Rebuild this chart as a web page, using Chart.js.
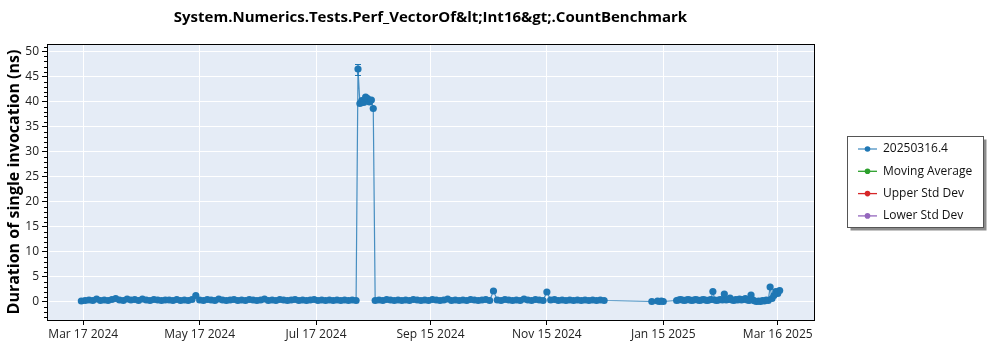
<!DOCTYPE html>
<html>
<head>
<meta charset="utf-8">
<script src="https://cdn.jsdelivr.net/npm/chart.js@4.4.1/dist/chart.umd.min.js"></script>
<style>
  html, body { margin: 0; padding: 0; background: #fff; }
</style>
</head>
<body>
<canvas id="perfChart" width="1000" height="350"></canvas>
<script>
// Benchmark results (one point per run)
const runDates = [
  '2024-03-16','2024-03-18','2024-03-20','2024-03-22','2024-03-24','2024-03-26','2024-03-28','2024-03-30',
  '2024-04-01','2024-04-03','2024-04-05','2024-04-07','2024-04-09','2024-04-11','2024-04-13','2024-04-15',
  '2024-04-17','2024-04-19','2024-04-21','2024-04-23','2024-04-25','2024-04-27','2024-04-29',
  '2024-05-01','2024-05-03','2024-05-05','2024-05-07','2024-05-09','2024-05-11','2024-05-13','2024-05-15',
  '2024-05-17','2024-05-19','2024-05-21','2024-05-23','2024-05-25','2024-05-27','2024-05-29','2024-05-31',
  '2024-06-02','2024-06-04','2024-06-06','2024-06-08','2024-06-10','2024-06-12','2024-06-14','2024-06-16',
  '2024-06-18','2024-06-20','2024-06-22','2024-06-24','2024-06-26','2024-06-28','2024-06-30',
  '2024-07-02','2024-07-04','2024-07-06','2024-07-08','2024-07-10','2024-07-12','2024-07-14','2024-07-16',
  '2024-07-18','2024-07-20','2024-07-22','2024-07-24','2024-07-26','2024-07-28','2024-07-30',
  '2024-08-01','2024-08-03','2024-08-05','2024-08-07',
  '2024-08-08','2024-08-09','2024-08-10','2024-08-11','2024-08-12','2024-08-13','2024-08-14','2024-08-15','2024-08-16',
  '2024-08-17','2024-08-19','2024-08-21','2024-08-23','2024-08-25','2024-08-27','2024-08-29','2024-08-31',
  '2024-09-02','2024-09-04','2024-09-06','2024-09-08','2024-09-10','2024-09-12','2024-09-14','2024-09-16',
  '2024-09-18','2024-09-20','2024-09-22','2024-09-24','2024-09-26','2024-09-28','2024-09-30',
  '2024-10-02','2024-10-04','2024-10-06','2024-10-08','2024-10-10','2024-10-12','2024-10-14','2024-10-16',
  '2024-10-18','2024-10-20','2024-10-22','2024-10-24','2024-10-26','2024-10-28','2024-10-30',
  '2024-11-01','2024-11-03','2024-11-05','2024-11-07','2024-11-09','2024-11-11','2024-11-13','2024-11-15',
  '2024-11-17','2024-11-19','2024-11-21','2024-11-23','2024-11-25','2024-11-27','2024-11-29',
  '2024-12-01','2024-12-03','2024-12-05','2024-12-07','2024-12-09','2024-12-11','2024-12-13','2024-12-15',
  '2025-01-09','2025-01-12','2025-01-13','2025-01-14','2025-01-15',
  '2025-01-22','2025-01-23','2025-01-24','2025-01-25','2025-01-26','2025-01-27','2025-01-28','2025-01-29',
  '2025-01-30','2025-01-31',
  '2025-02-01','2025-02-02','2025-02-03','2025-02-04','2025-02-05','2025-02-06','2025-02-07','2025-02-08',
  '2025-02-09','2025-02-10','2025-02-11','2025-02-12','2025-02-13','2025-02-14','2025-02-15','2025-02-16',
  '2025-02-17','2025-02-18','2025-02-19','2025-02-20','2025-02-21','2025-02-22','2025-02-23','2025-02-24',
  '2025-02-25','2025-02-26','2025-02-27','2025-02-28',
  '2025-03-01','2025-03-02','2025-03-03','2025-03-04','2025-03-05','2025-03-06','2025-03-07','2025-03-08',
  '2025-03-09','2025-03-10','2025-03-11','2025-03-12','2025-03-13','2025-03-14','2025-03-15','2025-03-16',
  '2025-03-17'
];
const runValues = [
  0.1, 0.2, 0.3, 0.2, 0.5, 0.2, 0.3, 0.2,
  0.4, 0.6, 0.3, 0.2, 0.5, 0.3, 0.4, 0.2,
  0.5, 0.3, 0.2, 0.4, 0.3, 0.2, 0.3,
  0.3, 0.2, 0.4, 0.2, 0.3, 0.2, 0.4, 1.2,
  0.3, 0.2, 0.4, 0.3, 0.2, 0.5, 0.3, 0.2,
  0.3, 0.4, 0.2, 0.3, 0.2, 0.4, 0.3, 0.2,
  0.3, 0.5, 0.2, 0.3, 0.2, 0.4, 0.3,
  0.2, 0.3, 0.4, 0.2, 0.3, 0.2, 0.3, 0.4,
  0.2, 0.3, 0.2, 0.3, 0.2, 0.3, 0.2,
  0.3, 0.2, 0.3, 0.2,
  46.5, 39.6, 40.2, 39.8, 40.9, 40.6, 39.9, 40.3, 38.6,
  0.2, 0.3, 0.2, 0.4, 0.3, 0.2, 0.3, 0.2,
  0.3, 0.2, 0.4, 0.3, 0.2, 0.3, 0.2, 0.4,
  0.3, 0.2, 0.3, 0.5, 0.2, 0.3, 0.2,
  0.3, 0.2, 0.4, 0.3, 0.2, 0.3, 0.4, 0.2,
  2.1, 0.3, 0.2, 0.4, 0.3, 0.2, 0.3,
  0.2, 0.5, 0.3, 0.2, 0.4, 0.3, 0.2, 1.9,
  0.3, 0.4, 0.2, 0.3, 0.2, 0.3, 0.2,
  0.3, 0.2, 0.3, 0.2, 0.3, 0.2, 0.3, 0.2,
  0.0, 0.1, 0.0, 0.1, 0.0,
  0.2, 0.3, 0.4, 0.3, 0.2, 0.3, 0.4, 0.3,
  0.2, 0.3,
  0.4, 0.3, 0.2, 0.3, 0.4, 0.3, 0.2, 0.3,
  0.4, 2.0, 0.3, 0.2, 0.3, 0.4, 0.3, 1.5,
  0.3, 0.4, 0.7, 0.3, 0.2, 0.4, 0.3, 0.5,
  0.3, 0.4, 0.6, 0.3,
  0.2, 1.3, 0.3, 0.1, 0.0, 0.1, 0.0, 0.2,
  0.1, 0.3, 0.2, 2.9, 0.6, 1.2, 2.0, 1.6,
  2.2
];

// error bars that are large enough to see
const errDates = ['2024-08-08'];
const errLow = [45.2];
const errHigh = [47.4];

const xTickDates = ['2024-03-17', '2024-05-17', '2024-07-17', '2024-09-15', '2024-11-15', '2025-01-15', '2025-03-16'];
const xTickLabels = ['Mar 17 2024', 'May 17 2024', 'Jul 17 2024', 'Sep 15 2024', 'Nov 15 2024', 'Jan 15 2025', 'Mar 16 2025'];
const yTicks = [0, 5, 10, 15, 20, 25, 30, 35, 40, 45, 50];

const seriesNames = ['20250316.4', 'Moving Average', 'Upper Std Dev', 'Lower Std Dev'];
const seriesColors = ['#1f77b4', '#2ca02c', '#d62728', '#9467bd'];

const FONT = "'Open Sans', 'Noto Sans', sans-serif";
const toMs = d => Date.parse(d);

// plot background + frame + minor ticks + error bars
const plotDecor = {
    id: 'plotDecor',
    beforeDraw(chart) {
        const { ctx, chartArea: a } = chart;
        ctx.save();
        ctx.fillStyle = '#e5ecf6';
        ctx.fillRect(a.left, a.top, a.right - a.left, a.bottom - a.top);
        ctx.restore();
    },
    afterDatasetsDraw(chart) {
        const { ctx, scales } = chart;
        ctx.save();
        ctx.strokeStyle = seriesColors[0];
        ctx.lineWidth = 1.2;
        errDates.forEach((d, i) => {
            const x = scales.x.getPixelForValue(toMs(d));
            const y1 = scales.y.getPixelForValue(errLow[i]);
            const y2 = scales.y.getPixelForValue(errHigh[i]);
            ctx.beginPath();
            ctx.moveTo(x, y1); ctx.lineTo(x, y2);
            ctx.moveTo(x - 3, y1); ctx.lineTo(x + 3, y1);
            ctx.moveTo(x - 3, y2); ctx.lineTo(x + 3, y2);
            ctx.stroke();
        });
        ctx.restore();
    },
    afterDraw(chart) {
        const { ctx, chartArea: a, scales } = chart;
        ctx.save();
        ctx.strokeStyle = '#000';
        ctx.lineWidth = 1;
        ctx.strokeRect(Math.round(a.left) + 0.5, Math.round(a.top) + 0.5,
            Math.round(a.right - a.left), Math.round(a.bottom - a.top));
        // minor ticks on y axis
        ctx.beginPath();
        for (let v = -3; v <= 51; v++) {
            if (v % 5 === 0) continue;
            const y = Math.round(scales.y.getPixelForValue(v)) + 0.5;
            ctx.moveTo(a.left - 3, y); ctx.lineTo(a.left, y);
        }
        ctx.stroke();
        ctx.restore();
    }
};

// boxed legend on the right
const boxLegend = {
    id: 'boxLegend',
    afterDraw(chart) {
        const ctx = chart.ctx;
        const bx = 847.5, by = 136.5, bw = 136, bh = 91;
        ctx.save();
        ctx.fillStyle = 'rgba(0,0,0,0.45)';
        ctx.fillRect(bx + 3, by + 3, bw, bh);
        ctx.fillStyle = '#fff';
        ctx.fillRect(bx, by, bw, bh);
        ctx.strokeStyle = '#555';
        ctx.lineWidth = 1;
        ctx.strokeRect(bx, by, bw, bh);
        ctx.font = '12px ' + FONT;
        ctx.textBaseline = 'middle';
        chart.data.datasets.forEach((ds, i) => {
            const y = 149 + i * 22.3;
            ctx.strokeStyle = ds.borderColor;
            ctx.lineWidth = 1.3;
            ctx.beginPath();
            ctx.moveTo(858, y); ctx.lineTo(877, y);
            ctx.stroke();
            ctx.fillStyle = ds.pointBackgroundColor;
            ctx.beginPath();
            ctx.arc(867.5, y, 2.8, 0, Math.PI * 2);
            ctx.fill();
            ctx.fillStyle = '#111';
            ctx.fillText(ds.label, 883, y);
        });
        ctx.restore();
    }
};

const datasets = seriesNames.map((name, i) => ({
    label: name,
    data: i === 0 ? runDates.map((d, j) => ({ x: toMs(d), y: runValues[j] })) : [],
    borderColor: seriesColors[i],
    backgroundColor: seriesColors[i],
    pointBackgroundColor: seriesColors[i],
    pointBorderWidth: 0,
    pointRadius: 3.6,
    borderWidth: 1.2
}));
datasets[0].borderColor = 'rgba(31,119,180,0.8)';

new Chart(document.getElementById('perfChart'), {
    type: 'line',
    data: { datasets },
    plugins: [plotDecor, boxLegend],
    options: {
        responsive: false,
        animation: false,
        devicePixelRatio: 1,
        layout: { padding: { left: 0, right: 186, top: 0, bottom: 0 } },
        plugins: {
            legend: { display: false },
            tooltip: { enabled: false },
            title: {
                display: true,
                fullSize: false,
                text: 'System.Numerics.Tests.Perf_VectorOf&lt;Int16&gt;.CountBenchmark',
                color: '#000',
                font: { family: FONT, size: 15, weight: 'bold', lineHeight: 1.2 },
                padding: { top: 9, bottom: 17 }
            }
        },
        scales: {
            x: {
                type: 'linear',
                min: toMs('2024-02-27'),
                max: toMs('2025-04-04'),
                afterBuildTicks: s => { s.ticks = xTickDates.map(d => ({ value: toMs(d) })); },
                afterFit: s => { s.height = 30; },
                ticks: {
                    color: '#222',
                    font: { family: FONT, size: 12 },
                    maxRotation: 0,
                    padding: 2,
                    callback: v => xTickLabels[xTickDates.findIndex(d => toMs(d) === v)]
                },
                grid: { color: '#fff', lineWidth: 1, tickColor: '#000', tickLength: 5 },
                border: { display: false }
            },
            y: {
                min: -3.7,
                max: 51.5,
                afterBuildTicks: s => { s.ticks = yTicks.map(v => ({ value: v })); },
                afterFit: s => { s.width = 47; },
                ticks: { color: '#222', font: { family: FONT, size: 12 }, padding: 3 },
                grid: { color: '#fff', lineWidth: 1, tickColor: '#000', tickLength: 5 },
                border: { display: false },
                title: {
                    display: true,
                    text: 'Duration of single invocation (ns)',
                    color: '#000',
                    font: { family: FONT, size: 16, weight: 'bold' },
                    padding: { top: 5, bottom: 0 }
                }
            }
        }
    }
});
</script>
</body>
</html>
